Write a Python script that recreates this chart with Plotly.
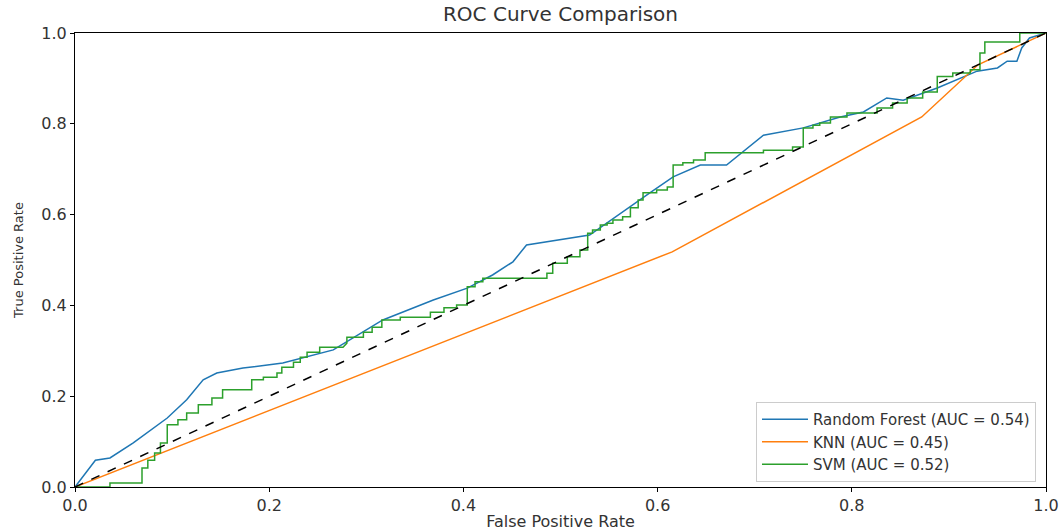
import plotly.graph_objects as go

# ---------------- data ----------------
rf_fpr = [0, 0.021, 0.036, 0.060, 0.095, 0.115, 0.132, 0.146, 0.173, 0.214, 0.266, 0.317,
          0.369, 0.404, 0.430, 0.451, 0.465, 0.530, 0.592, 0.616, 0.644, 0.671, 0.709,
          0.750, 0.788, 0.812, 0.836, 0.853, 0.888, 0.929, 0.950, 0.960, 0.970, 0.975,
          0.983, 1.0]
rf_tpr = [0, 0.059, 0.064, 0.097, 0.152, 0.192, 0.236, 0.251, 0.262, 0.273, 0.302, 0.368,
          0.412, 0.438, 0.467, 0.496, 0.533, 0.555, 0.648, 0.683, 0.709, 0.709, 0.775,
          0.791, 0.815, 0.826, 0.857, 0.852, 0.879, 0.916, 0.923, 0.938, 0.938, 0.967,
          0.989, 1.0]

knn_fpr = [0, 0.615, 0.872, 0.930, 1.0]
knn_tpr = [0, 0.518, 0.815, 0.930, 1.0]

svm_fpr = [0, 0.036, 0.036, 0.069, 0.069, 0.075, 0.075, 0.082, 0.082, 0.088, 0.088, 0.095,
           0.095, 0.106, 0.106, 0.115, 0.115, 0.127, 0.127, 0.141, 0.141, 0.152, 0.152,
           0.182, 0.182, 0.194, 0.194, 0.208, 0.208, 0.213, 0.213, 0.225, 0.225, 0.232,
           0.232, 0.239, 0.239, 0.252, 0.252, 0.276, 0.280, 0.280, 0.297, 0.297, 0.306,
           0.306, 0.316, 0.316, 0.335, 0.335, 0.366, 0.366, 0.380, 0.380, 0.393, 0.393,
           0.404, 0.404, 0.412, 0.412, 0.420, 0.420, 0.486, 0.486, 0.492, 0.492, 0.507,
           0.507, 0.520, 0.520, 0.528, 0.528, 0.533, 0.533, 0.541, 0.541, 0.548, 0.548,
           0.554, 0.554, 0.564, 0.564, 0.572, 0.572, 0.580, 0.580, 0.585, 0.585, 0.599,
           0.599, 0.610, 0.610, 0.616, 0.616, 0.626, 0.626, 0.637, 0.637, 0.649, 0.649,
           0.709, 0.709, 0.739, 0.739, 0.750, 0.750, 0.760, 0.760, 0.767, 0.767, 0.778,
           0.778, 0.795, 0.795, 0.826, 0.826, 0.842, 0.842, 0.857, 0.857, 0.873, 0.873,
           0.888, 0.888, 0.904, 0.904, 0.922, 0.922, 0.932, 0.932, 0.937, 0.937, 0.973,
           0.973, 1.0]
svm_tpr = [0, 0, 0.009, 0.009, 0.042, 0.042, 0.059, 0.059, 0.075, 0.075, 0.097, 0.097,
           0.137, 0.137, 0.148, 0.148, 0.163, 0.163, 0.181, 0.181, 0.196, 0.196, 0.214,
           0.214, 0.236, 0.236, 0.242, 0.242, 0.251, 0.251, 0.264, 0.264, 0.275, 0.275,
           0.286, 0.286, 0.297, 0.297, 0.308, 0.308, 0.317, 0.330, 0.330, 0.341, 0.341,
           0.352, 0.352, 0.368, 0.368, 0.374, 0.374, 0.385, 0.385, 0.395, 0.395, 0.401,
           0.401, 0.441, 0.441, 0.452, 0.452, 0.460, 0.460, 0.471, 0.471, 0.493, 0.493,
           0.507, 0.507, 0.522, 0.522, 0.559, 0.559, 0.566, 0.566, 0.577, 0.577, 0.581,
           0.581, 0.588, 0.588, 0.595, 0.595, 0.615, 0.615, 0.632, 0.632, 0.648, 0.648,
           0.654, 0.654, 0.661, 0.661, 0.709, 0.709, 0.714, 0.714, 0.720, 0.720, 0.736,
           0.736, 0.742, 0.742, 0.749, 0.749, 0.791, 0.791, 0.797, 0.797, 0.802, 0.802,
           0.815, 0.815, 0.824, 0.824, 0.835, 0.835, 0.846, 0.846, 0.857, 0.857, 0.870,
           0.870, 0.904, 0.904, 0.912, 0.912, 0.919, 0.919, 0.956, 0.956, 0.980, 0.980,
           1.0, 1.0]

chance_x = [0, 1]
chance_y = [0, 1]

names = ["Random Forest (AUC = 0.54)", "KNN (AUC = 0.45)", "SVM (AUC = 0.52)"]
tick_vals = [0.0, 0.2, 0.4, 0.6, 0.8, 1.0]
tick_text = ["0.0", "0.2", "0.4", "0.6", "0.8", "1.0"]

# ---------------- figure ----------------
FONT = "DejaVu Sans"
TXT = "#333333"
fig = go.Figure()
fig.add_trace(go.Scatter(x=rf_fpr, y=rf_tpr, mode="lines", name=names[0],
                         line=dict(color="#1f77b4", width=1.5)))
fig.add_trace(go.Scatter(x=knn_fpr, y=knn_tpr, mode="lines", name=names[1],
                         line=dict(color="#ff7f0e", width=1.5)))
fig.add_trace(go.Scatter(x=svm_fpr, y=svm_tpr, mode="lines", name=names[2],
                         line=dict(color="#2ca02c", width=1.5)))
fig.add_trace(go.Scatter(x=chance_x, y=chance_y, mode="lines", showlegend=False,
                         line=dict(color="black", width=1.5, dash="dash")))

axis_common = dict(range=[0, 1], showgrid=False, zeroline=False, showline=True,
                   linecolor="black", linewidth=1, mirror=True, ticks="outside",
                   ticklen=4, tickwidth=1, tickcolor="black",
                   tickvals=tick_vals, ticktext=tick_text, automargin=False,
                   tickfont=dict(family=FONT, size=16, color=TXT))

fig.update_layout(
    width=1060, height=531,
    margin=dict(l=75, r=14, t=33, b=44),
    paper_bgcolor="white", plot_bgcolor="white",
    font=dict(family=FONT, color=TXT),
    title=dict(text="ROC Curve Comparison", x=0.5, xanchor="center",
               xref="paper", y=1 - 14 / 531, yref="container", yanchor="middle",
               font=dict(family=FONT, size=20, color=TXT)),
    xaxis=dict(**axis_common,
               title=dict(text="False Positive Rate", standoff=2,
                          font=dict(family=FONT, size=16, color=TXT))),
    yaxis=dict(**axis_common,
               title=dict(text="True Positive Rate", standoff=14,
                          font=dict(family="Liberation Sans Narrow, " + FONT, size=13,
                                    color=TXT))),
    legend=dict(x=0.9897, y=0.011, xanchor="right", yanchor="bottom",
                bgcolor="rgba(255,255,255,0.9)", bordercolor="#cccccc", borderwidth=1,
                font=dict(family=FONT, size=15, color=TXT),
                tracegroupgap=0, itemwidth=46),
    showlegend=True,
)

fig.write_html("out.html", config={"displayModeBar": False},
               post_script="document.body.style.margin='0';"
                           "document.body.style.overflow='hidden';")
